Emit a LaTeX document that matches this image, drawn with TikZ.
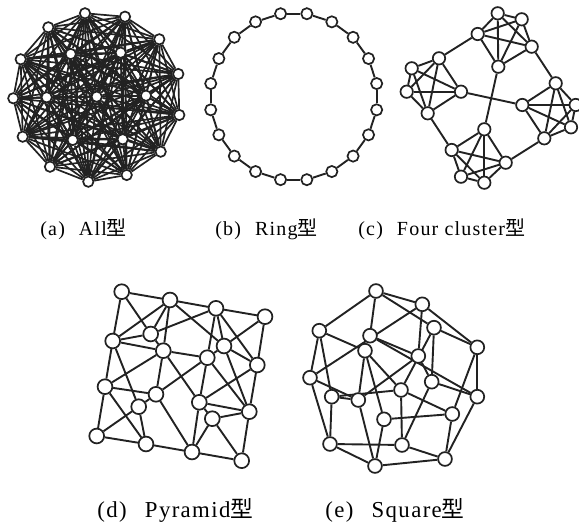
\documentclass[tikz,border=0pt]{standalone}
\usepackage{fontspec}
\setmainfont{Liberation Serif}
\newfontfamily\cjkfont{Noto Sans CJK SC}
\newfontfamily\capfont[LetterSpace=6]{Liberation Serif}
\usetikzlibrary{backgrounds}
\definecolor{wire}{HTML}{222222}

\begin{document}
\begin{tikzpicture}[x=0.5pt,y=-0.5pt,font=\fontsize{10pt}{12pt}\selectfont,
    vtx/.style={circle,draw=wire,fill=white,line width=0.85pt,inner sep=0pt},
    avtx/.style={vtx,minimum size=5.2pt},
    rvtx/.style={vtx,minimum size=5.6pt},
    cvtx/.style={vtx,minimum size=6.2pt},
    pvtx/.style={vtx,minimum size=7.4pt},
    svtx/.style={vtx,minimum size=6.9pt},
    link/.style={draw=wire,line width=0.95pt},
    lbl/.style={anchor=west,inner sep=0pt,font=\fontsize{10pt}{12pt}\capfont},
    biglbl/.style={lbl,font=\fontsize{11.4pt}{13pt}\capfont}]
  \useasboundingbox (0,0) rectangle (579,523);

  % (a) All
  \foreach \n/\x/\y in {1/85/13.3, 2/125/16.7, 3/48.3/27.3, 4/159.3/39.3,
      5/70.7/54, 6/120.7/52.7, 7/20.7/59.3, 8/178.3/74, 9/13.3/98.3,
      10/46.7/97.3, 11/96.7/96.7, 12/146/95.7, 13/179.3/115, 14/22.7/136.7,
      15/72.7/140, 16/122.7/139.3, 17/160.7/151.7, 18/50/166.7,
      19/126.7/175, 20/88.3/181.7}
    \node[avtx] (a\n) at (\x,\y) {};
  \begin{scope}[on background layer]
    \foreach \i in {1,...,19}{
      \pgfmathtruncatemacro{\nxt}{\i+1}
      \foreach \j in {\nxt,...,20} \draw[link,line width=0.85pt] (a\i) -- (a\j);
    }
  \end{scope}

  % (b) Ring
  \foreach \k in {1,...,20}
    \node[rvtx] (b\k) at ([shift={(293.7,96.7)}]{18*\k-9}:84) {};
  \begin{scope}[on background layer]
    \foreach \k [remember=\k as \p (initially 20)] in {1,...,20}
      \draw[link] (b\p) -- (b\k);
  \end{scope}

  % (c) Four cluster
  \foreach \n/\x/\y in {T1/497.7/13.3, T2/521.7/19.3, T3/477.7/34, T4/531.7/46.7, T5/498.3/66.7,
      L1/439/58.3, L2/411.7/68.3, L3/406.7/91.7, L4/461/91.7, L5/427.7/113.3,
      R1/555.7/83.3, R2/575.7/105, R3/522.3/105, R4/571/127.3, R5/544.3/138.3,
      B1/484.3/129.3, B2/451.7/150, B3/505.7/162.7, B4/461/176.7, B5/484.3/182.7}
    \node[cvtx] (c\n) at (\x,\y) {};
  \begin{scope}[on background layer]
    \foreach \g in {T,L,R,B}
      \foreach \i/\j in {1/2,1/3,1/4,1/5,2/3,2/4,2/5,3/4,3/5,4/5}
        \draw[link] (c\g\i) -- (c\g\j);
    \foreach \u/\v in {T3/L1,T4/R1,L5/B2,B3/R5,L4/R3,T5/B1}
      \draw[link] (c\u) -- (c\v);
  \end{scope}

  % (d) Pyramid
  \foreach \n/\x/\y in {A/121.7/291.7, B/170/300, C/216/308.3, D/265/316.7,
      E/112.7/341, F/150.7/334, G/163.3/350.7, H/224/346, I/207.3/357.7,
      J/257.3/365, K/105/386.7, L/156/394.3, M/138.7/406.7, N/199.3/402.3,
      O/212.3/418.7, P/249.3/411.7, Q/96.7/436, R/146/444, S/192/452, T/241.7/460.7}
    \node[pvtx] (d\n) at (\x,\y) {};
  \begin{scope}[on background layer]
    \foreach \u/\v in {A/B,B/C,C/D,A/E,E/K,K/Q,D/J,J/P,P/T,Q/R,R/S,S/T,
        A/F,B/E,B/F,B/G,B/H,C/F,C/I,C/H,C/J,D/H,E/F,E/G,E/M,F/G,G/I,G/L,
        K/L,K/R,K/G,H/I,H/J,H/P,I/L,I/N,J/N,N/P,O/P,N/O,L/M,M/Q,M/R,L/S,
        N/S,O/S,O/T,G/N,I/P}
      \draw[link] (d\u) -- (d\v);
  \end{scope}

  % (e) Square
  \foreach \n/\x/\y in {a/376/291, b/422.3/304.3, c/434/327.7, d/477.3/347.3,
      e/319.3/330.7, f/370/335.7, g/365/350.7, h/418.3/356, i/310/377.7,
      j/431.7/381.7, k/477.3/396.7, l/331.7/396.7, m/358.3/400, n/401/390,
      o/452.3/414, p/384/419.3, q/330/444, r/375/466, s/402/445, t/445/459}
    \node[svtx] (e\n) at (\x,\y) {};
  \begin{scope}[on background layer]
    \foreach \u/\v in {a/b,a/e,a/f,a/c,b/d,b/h,b/i,c/d,c/j,c/n,d/k,d/o,
        e/g,e/i,e/l,f/h,f/k,g/m,g/p,g/n,h/j,h/m,i/m,i/q,j/k,j/s,k/t,
        l/m,l/n,l/q,m/r,n/o,n/s,o/p,o/t,p/r,q/s,q/r,r/t,s/t}
      \draw[link] (e\u) -- (e\v);
  \end{scope}

  % captions
  \node[lbl] (capA) at (40,229) {(a)\hspace{0.7em}All{\cjkfont 型}};
  \node[lbl] (capB) at (215,229) {(b)\hspace{0.7em}Ring{\cjkfont 型}};
  \node[lbl] (capC) at (358,229) {(c)\hspace{0.7em}Four cluster{\cjkfont 型}};
  \node[biglbl] (capD) at (97,510) {(d)\hspace{0.8em}Pyramid{\cjkfont 型}};
  \node[biglbl] (capE) at (325,510) {(e)\hspace{0.8em}Square{\cjkfont 型}};
\end{tikzpicture}
\end{document}
